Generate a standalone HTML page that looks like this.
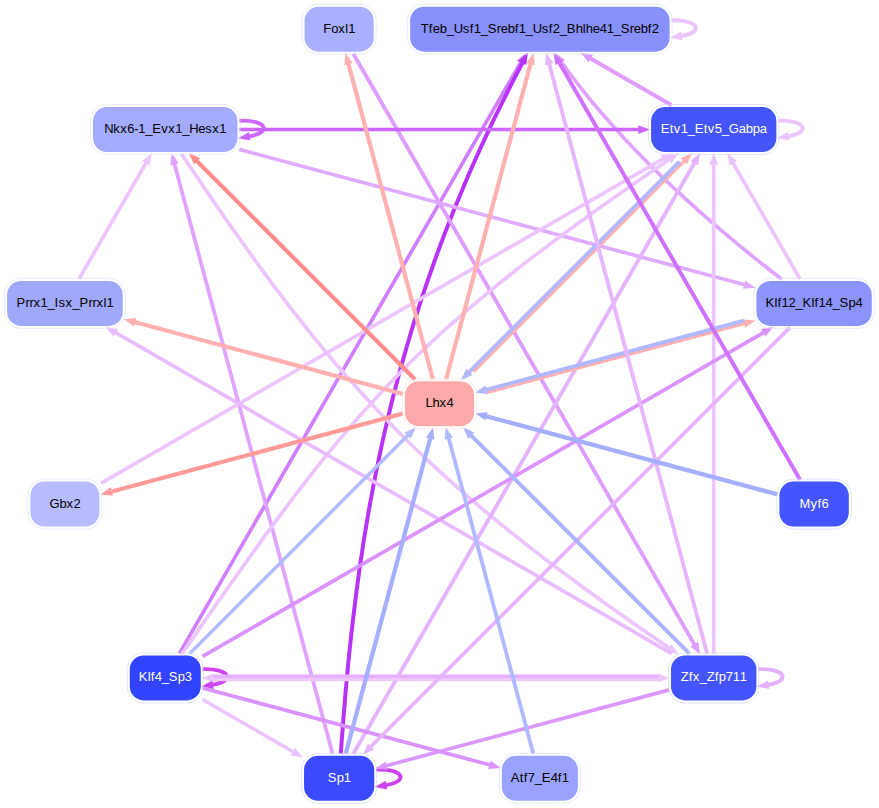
<!DOCTYPE html>
<html><head><meta charset="utf-8"><style>
html,body{margin:0;padding:0;background:#fff;width:879px;height:808px;overflow:hidden}
svg{display:block}
text{font-family:"Liberation Sans",sans-serif;font-size:13px}
</style></head><body>
<svg width="879" height="808" viewBox="0 0 879 808">
<path d="M671.42 20.36C698.42 19.16 705.28 32.18 680.59 36.10" stroke="#ecc4ff" stroke-width="3.9" fill="none"/>
<path d="M670.12 37.76L681.09 31.62L682.46 40.21Z" fill="#ecc4ff"/>
<path d="M239.33 120.73C266.33 119.53 273.19 132.55 248.50 136.47" stroke="#cc66ff" stroke-width="3.9" fill="none"/>
<path d="M238.03 138.13L249.01 131.99L250.37 140.58Z" fill="#cc66ff"/>
<path d="M778.17 120.73C805.17 119.53 812.03 132.55 787.33 136.47" stroke="#ecc4ff" stroke-width="3.9" fill="none"/>
<path d="M776.87 138.13L787.84 131.99L789.20 140.58Z" fill="#ecc4ff"/>
<path d="M202.58 669.17C229.58 667.97 236.44 680.99 211.75 684.90" stroke="#cc44ee" stroke-width="3.9" fill="none"/>
<path d="M201.28 686.57L212.26 680.42L213.62 689.01Z" fill="#cc44ee"/>
<path d="M758.22 669.17C785.22 667.97 792.08 680.99 767.38 684.90" stroke="#e4b0ff" stroke-width="3.9" fill="none"/>
<path d="M756.92 686.57L767.89 680.42L769.25 689.01Z" fill="#e4b0ff"/>
<path d="M376.03 769.54C403.03 768.34 409.89 781.36 385.20 785.27" stroke="#cc44ee" stroke-width="3.9" fill="none"/>
<path d="M374.73 786.94L385.70 780.79L387.07 789.38Z" fill="#cc44ee"/>
<path d="M179.31 653.67L521.29 61.35" stroke="#d080ff" stroke-width="3.7" fill="none"/>
<path d="M526.30 52.66L524.17 65.06L516.64 60.71Z" fill="#d080ff"/>
<path d="M340.8 754.0L341.3 746.2L341.9 738.4L342.5 730.5L343.1 722.7L343.7 714.8L344.4 706.9L345.0 699.0L345.7 691.0L346.4 683.1L347.2 675.1L347.9 667.1L348.7 659.1L349.5 651.1L350.4 643.1L351.2 635.0L352.2 626.9L353.1 618.8L354.1 610.7L355.1 602.6L356.1 594.4L357.2 586.2L358.3 578.0L359.4 569.8L360.6 561.6L361.9 553.3L363.1 545.0L364.4 536.7L365.8 528.4L367.2 520.0L368.6 511.7L370.1 503.3L371.7 494.9L373.3 486.4L374.9 478.0L376.6 469.5L378.4 461.0L380.2 452.5L382.0 443.9L383.9 435.4L385.9 426.8L387.9 418.2L390.0 409.5L392.1 400.8L394.3 392.2L396.6 383.4L398.9 374.7L401.3 365.9L403.8 357.1L406.3 348.3L408.9 339.5L411.5 330.6L414.3 321.7L417.1 312.8L419.9 303.9L422.9 294.9L425.9 285.9L429.0 276.9L432.2 267.8L435.4 258.7L438.7 249.6L442.1 240.5L445.6 231.4L449.2 222.2L452.8 212.9L456.5 203.7L460.4 194.4L464.3 185.1L468.2 175.8L472.3 166.4L476.5 157.0L480.7 147.6L485.1 138.2L489.5 128.7L494.0 119.2L498.7 109.7L503.4 100.1L508.2 90.5L513.1 80.9L518.1 71.2L523.2 61.5" stroke="#b833f8" stroke-width="4.0" fill="none"/>
<path d="M527.95 52.66L526.22 65.12L518.55 61.02Z" fill="#b833f8"/>
<path d="M781.6 279.1L778.4 276.6L775.2 274.1L772.0 271.7L768.8 269.2L765.7 266.7L762.5 264.2L759.3 261.6L756.1 259.1L753.0 256.6L749.8 254.0L746.7 251.5L743.5 248.9L740.4 246.4L737.3 243.8L734.2 241.2L731.1 238.6L728.0 236.0L724.9 233.4L721.8 230.8L718.7 228.2L715.6 225.5L712.6 222.9L709.5 220.2L706.5 217.6L703.5 214.9L700.4 212.3L697.4 209.6L694.4 206.9L691.5 204.2L688.5 201.5L685.5 198.8L682.6 196.1L679.7 193.4L676.7 190.7L673.8 188.0L670.9 185.3L668.0 182.5L665.2 179.8L662.3 177.0L659.5 174.3L656.7 171.5L653.8 168.8L651.0 166.0L648.3 163.2L645.5 160.4L642.7 157.7L640.0 154.9L637.3 152.1L634.6 149.3L631.9 146.5L629.3 143.7L626.6 140.9L624.0 138.1L621.4 135.2L618.8 132.4L616.2 129.6L613.6 126.8L611.1 123.9L608.6 121.1L606.1 118.3L603.6 115.4L601.1 112.6L598.7 109.7L596.3 106.9L593.9 104.0L591.5 101.1L589.2 98.3L586.8 95.4L584.5 92.6L582.2 89.7L580.0 86.8L577.7 83.9L575.5 81.1L573.3 78.2L571.1 75.3L569.0 72.4L566.9 69.6L564.8 66.7L562.7 63.8L560.6 60.9" stroke="#e0a2ff" stroke-width="3.7" fill="none"/>
<path d="M554.94 52.66L565.25 59.87L558.10 64.84Z" fill="#e0a2ff"/>
<path d="M671.63 105.23L589.26 57.68" stroke="#e09cff" stroke-width="4.1" fill="none"/>
<path d="M580.57 52.66L592.97 54.80L588.62 62.33Z" fill="#e09cff"/>
<path d="M353.16 53.46L695.13 645.78" stroke="#dd9cff" stroke-width="3.8" fill="none"/>
<path d="M700.15 654.47L690.48 646.42L698.02 642.07Z" fill="#dd9cff"/>
<path d="M239.33 129.53L640.04 129.53" stroke="#cc66ff" stroke-width="3.6" fill="none"/>
<path d="M650.07 129.53L638.27 133.88L638.27 125.18Z" fill="#cc66ff"/>
<path d="M239.33 149.38L745.75 285.07" stroke="#e0aaff" stroke-width="3.7" fill="none"/>
<path d="M755.44 287.66L742.91 288.81L745.16 280.41Z" fill="#e0aaff"/>
<path d="M78.94 279.08L146.70 161.72" stroke="#ecc4ff" stroke-width="3.7" fill="none"/>
<path d="M151.72 153.03L149.58 165.43L142.05 161.08Z" fill="#ecc4ff"/>
<path d="M332.62 754.04L174.18 162.72" stroke="#e0a4ff" stroke-width="3.8" fill="none"/>
<path d="M171.58 153.03L178.84 163.31L170.43 165.56Z" fill="#e0a4ff"/>
<path d="M181.4 153.8L187.2 162.5L192.9 171.0L198.6 179.4L204.2 187.7L209.8 195.9L215.3 203.9L220.8 211.9L226.2 219.7L231.6 227.4L237.0 235.0L242.3 242.5L247.6 249.9L252.9 257.3L258.1 264.5L263.3 271.6L268.5 278.6L273.6 285.6L278.8 292.4L283.9 299.2L289.0 305.9L294.2 312.5L299.3 319.0L304.4 325.5L309.5 331.9L314.6 338.2L319.7 344.4L324.8 350.6L329.9 356.7L335.0 362.8L340.1 368.8L345.3 374.8L350.5 380.7L355.7 386.5L360.9 392.3L366.1 398.1L371.4 403.8L376.7 409.4L382.1 415.1L387.4 420.7L392.8 426.2L398.3 431.8L403.8 437.3L409.3 442.7L414.9 448.2L420.6 453.6L426.3 459.0L432.0 464.4L437.9 469.8L443.7 475.2L449.7 480.5L455.7 485.9L461.8 491.2L467.9 496.6L474.1 501.9L480.4 507.3L486.8 512.6L493.3 518.0L499.8 523.4L506.5 528.7L513.2 534.1L520.0 539.5L526.9 545.0L533.9 550.4L541.0 555.9L548.3 561.4L555.6 566.9L563.0 572.5L570.5 578.1L578.2 583.8L585.9 589.4L593.8 595.1L601.8 600.9L610.0 606.7L618.2 612.6L626.6 618.5L635.1 624.4L643.7 630.4L652.5 636.5L661.4 642.6L670.5 648.8" stroke="#ecc4ff" stroke-width="3.7" fill="none"/>
<path d="M678.79 654.47L666.59 651.42L671.48 644.23Z" fill="#ecc4ff"/>
<path d="M101.16 483.19L664.33 158.05" stroke="#ecc4ff" stroke-width="3.7" fill="none"/>
<path d="M673.01 153.03L664.97 162.70L660.62 155.17Z" fill="#ecc4ff"/>
<path d="M182.0 653.7L188.3 644.7L194.4 635.8L200.4 627.1L206.4 618.5L212.3 610.1L218.0 601.8L223.7 593.7L229.4 585.7L234.9 577.8L240.4 570.1L245.8 562.5L251.2 555.0L256.5 547.6L261.7 540.3L266.9 533.2L272.1 526.1L277.2 519.2L282.3 512.4L287.3 505.6L292.3 499.0L297.3 492.4L302.3 486.0L307.2 479.6L312.1 473.3L317.0 467.1L321.9 461.0L326.8 455.0L331.7 449.0L336.5 443.1L341.4 437.3L346.3 431.5L351.2 425.7L356.1 420.1L361.1 414.5L366.0 408.9L371.0 403.4L376.0 397.9L381.1 392.5L386.2 387.1L391.3 381.7L396.5 376.4L401.7 371.1L407.0 365.8L412.3 360.5L417.6 355.3L423.1 350.1L428.6 344.8L434.2 339.6L439.8 334.4L445.5 329.2L451.3 324.0L457.2 318.8L463.2 313.6L469.3 308.4L475.4 303.2L481.7 297.9L488.0 292.6L494.5 287.3L501.1 282.0L507.7 276.7L514.5 271.3L521.5 265.9L528.5 260.4L535.7 254.9L543.0 249.4L550.4 243.8L558.0 238.1L565.7 232.4L573.5 226.7L581.5 220.9L589.7 215.0L598.0 209.0L606.4 203.0L615.1 196.9L623.9 190.8L632.8 184.5L642.0 178.2L651.3 171.8L660.8 165.3L670.4 158.7" stroke="#ecc4ff" stroke-width="3.7" fill="none"/>
<path d="M678.75 153.03L671.43 163.26L666.55 156.06Z" fill="#ecc4ff"/>
<path d="M353.16 754.04L695.13 161.72" stroke="#e4b4ff" stroke-width="3.9" fill="none"/>
<path d="M700.15 153.03L698.02 165.43L690.48 161.08Z" fill="#e4b4ff"/>
<path d="M713.72 653.67L713.72 163.06" stroke="#ecc4ff" stroke-width="3.7" fill="none"/>
<path d="M713.72 153.03L718.07 164.83L709.37 164.83Z" fill="#ecc4ff"/>
<path d="M800.06 279.08L732.30 161.72" stroke="#ecc4ff" stroke-width="3.7" fill="none"/>
<path d="M727.28 153.03L736.95 161.08L729.42 165.43Z" fill="#ecc4ff"/>
<path d="M671.63 653.67L114.30 331.89" stroke="#e8bcff" stroke-width="3.7" fill="none"/>
<path d="M105.62 326.88L118.01 329.01L113.66 336.55Z" fill="#e8bcff"/>
<path d="M669.22 689.89L384.92 766.07" stroke="#dc98ff" stroke-width="3.7" fill="none"/>
<path d="M375.23 768.66L385.50 761.41L387.75 769.81Z" fill="#dc98ff"/>
<path d="M213.58 679.67L659.99 679.67" stroke="#eec8ff" stroke-width="3.4" fill="none"/>
<path d="M670.02 677.97L658.22 682.32L658.22 673.62Z" fill="#eec8ff"/>
<path d="M658.22 676.27L211.81 676.27" stroke="#e4b0ff" stroke-width="3.4" fill="none"/>
<path d="M201.78 677.97L213.58 673.62L213.58 682.32Z" fill="#ecc4ff"/>
<path d="M202.58 656.43L764.70 331.89" stroke="#da92ff" stroke-width="3.7" fill="none"/>
<path d="M773.38 326.88L765.34 336.55L760.99 329.01Z" fill="#da92ff"/>
<path d="M202.58 687.96L491.18 765.29" stroke="#da92ff" stroke-width="3.7" fill="none"/>
<path d="M500.87 767.89L488.35 769.03L490.60 760.63Z" fill="#da92ff"/>
<path d="M202.58 699.50L294.34 752.48" stroke="#ecc4ff" stroke-width="3.7" fill="none"/>
<path d="M303.03 757.49L290.64 755.36L294.99 747.83Z" fill="#ecc4ff"/>
<path d="M789.79 327.68L369.72 747.74" stroke="#e6b4ff" stroke-width="3.7" fill="none"/>
<path d="M362.63 754.84L367.90 743.42L374.05 749.57Z" fill="#e6b4ff"/>
<path d="M415.20 379.45L195.88 160.13" stroke="#ff8c8c" stroke-width="4.2" fill="none"/>
<path d="M188.78 153.03L200.20 158.30L194.05 164.45Z" fill="#ff8c8c"/>
<path d="M432.99 379.45L348.02 62.35" stroke="#ffb0b0" stroke-width="4.2" fill="none"/>
<path d="M345.43 52.66L352.68 62.94L344.28 65.19Z" fill="#ffb0b0"/>
<path d="M446.01 379.45L530.98 62.35" stroke="#ffb0b0" stroke-width="4.2" fill="none"/>
<path d="M533.57 52.66L534.72 65.19L526.32 62.94Z" fill="#ffb0b0"/>
<path d="M473.56 371.67L685.10 160.13" stroke="#ffb0b0" stroke-width="3.3" fill="none"/>
<path d="M692.20 153.03L686.93 164.45L680.78 158.30Z" fill="#ffb0b0"/>
<path d="M486.53 392.60L745.75 323.14" stroke="#ffb0b0" stroke-width="3.3" fill="none"/>
<path d="M755.44 320.54L745.16 327.80L742.91 319.40Z" fill="#ffb0b0"/>
<path d="M403.10 394.00L133.40 321.73" stroke="#ffb0b0" stroke-width="4.2" fill="none"/>
<path d="M123.71 319.14L136.24 317.99L133.99 326.39Z" fill="#ffb0b0"/>
<path d="M403.10 413.50L110.05 492.03" stroke="#ff9a9a" stroke-width="4.2" fill="none"/>
<path d="M100.36 494.62L110.64 487.37L112.89 495.77Z" fill="#ff9a9a"/>
<path d="M679.66 161.61L468.11 373.16" stroke="#b0b8ff" stroke-width="3.9" fill="none"/>
<path d="M461.02 380.25L466.29 368.83L472.44 374.98Z" fill="#b0b8ff"/>
<path d="M744.01 320.71L484.79 390.17" stroke="#b0b8ff" stroke-width="3.9" fill="none"/>
<path d="M475.10 392.76L485.37 385.51L487.62 393.91Z" fill="#b0b8ff"/>
<path d="M707.20 653.67L548.76 62.35" stroke="#e6b6ff" stroke-width="3.9" fill="none"/>
<path d="M546.17 52.66L553.42 62.94L545.02 65.19Z" fill="#e6b6ff"/>
<path d="M777.59 494.34L484.79 415.88" stroke="#a6aeff" stroke-width="4.3" fill="none"/>
<path d="M475.10 413.29L487.62 412.14L485.37 420.54Z" fill="#a6aeff"/>
<path d="M689.42 653.67L470.09 434.34" stroke="#acb4ff" stroke-width="4.0" fill="none"/>
<path d="M463.00 427.25L474.42 432.52L468.27 438.67Z" fill="#acb4ff"/>
<path d="M533.36 754.04L448.39 436.94" stroke="#b0b8ff" stroke-width="3.8" fill="none"/>
<path d="M445.80 427.25L453.05 437.52L444.65 439.77Z" fill="#b0b8ff"/>
<path d="M345.64 754.04L430.61 436.94" stroke="#a6aeff" stroke-width="4.3" fill="none"/>
<path d="M433.20 427.25L434.35 439.77L425.95 437.52Z" fill="#a6aeff"/>
<path d="M189.58 653.67L408.91 434.34" stroke="#b4bcff" stroke-width="3.5" fill="none"/>
<path d="M416.00 427.25L410.73 438.67L404.58 432.52Z" fill="#b4bcff"/>
<path d="M800.06 479.82L558.45 61.35" stroke="#d070ff" stroke-width="4.0" fill="none"/>
<path d="M553.44 52.66L563.10 60.71L555.57 65.06Z" fill="#d070ff"/>
<rect x="302.08" y="4.16" width="74.10" height="50.00" rx="16.5" fill="none" stroke="#e0e3ff" stroke-width="0.7"/>
<rect x="304.58" y="6.66" width="69.10" height="45.00" rx="14.0" fill="#aab0ff"/>
<text x="323.13 331.13 338.13 345.13 348.13" y="32.66" fill="#000">Foxl1</text>
<rect x="407.62" y="4.16" width="264.50" height="50.00" rx="16.5" fill="none" stroke="#e0e3ff" stroke-width="0.7"/>
<rect x="410.12" y="6.66" width="259.50" height="45.00" rx="14.0" fill="#8890fc"/>
<text x="420.87 428.87 432.87 439.87 446.87 453.87 462.87 469.87 473.87 480.87 487.87 496.87 500.87 507.87 514.87 518.87 525.87 532.87 541.87 548.87 552.87 559.87 566.87 575.87 582.87 585.87 592.87 599.87 606.87 613.87 620.87 629.87 633.87 640.87 647.87 651.87" y="32.66" fill="#000">Tfeb_Usf1_Srebf1_Usf2_Bhlhe41_Srebf2</text>
<rect x="648.57" y="104.53" width="130.30" height="50.00" rx="16.5" fill="none" stroke="#d2d8ff" stroke-width="0.7"/>
<rect x="651.07" y="107.03" width="125.30" height="45.00" rx="14.0" fill="#4455fa"/>
<text x="660.72 669.72 673.72 680.72 687.72 694.72 703.72 707.72 714.72 721.72 728.72 738.72 745.72 752.72 759.72" y="133.03" fill="#fff">Etv1_Etv5_Gabpa</text>
<rect x="753.94" y="278.38" width="120.30" height="50.00" rx="16.5" fill="none" stroke="#e0e3ff" stroke-width="0.7"/>
<rect x="756.44" y="280.88" width="115.30" height="45.00" rx="14.0" fill="#8c94fc"/>
<text x="765.59 774.59 777.59 781.59 788.59 795.59 802.59 811.59 814.59 818.59 825.59 832.59 839.59 848.59 855.59" y="306.88" fill="#000">Klf12_Klf14_Sp4</text>
<rect x="776.89" y="479.12" width="74.40" height="50.00" rx="16.5" fill="none" stroke="#d2d8ff" stroke-width="0.7"/>
<rect x="779.39" y="481.62" width="69.40" height="45.00" rx="14.0" fill="#4455ff"/>
<text x="799.59 810.59 817.59 821.59" y="507.62" fill="#fff">Myf6</text>
<rect x="668.52" y="652.97" width="90.40" height="50.00" rx="16.5" fill="none" stroke="#d2d8ff" stroke-width="0.7"/>
<rect x="671.02" y="655.47" width="85.40" height="45.00" rx="14.0" fill="#4455ff"/>
<text x="680.72 688.72 692.72 699.72 706.72 714.72 718.72 725.72 732.72 739.72" y="681.47" fill="#fff">Zfx_Zfp711</text>
<rect x="499.37" y="753.34" width="81.00" height="50.00" rx="16.5" fill="none" stroke="#e0e3ff" stroke-width="0.7"/>
<rect x="501.87" y="755.84" width="76.00" height="45.00" rx="14.0" fill="#9aa2ff"/>
<text x="510.87 519.87 523.87 527.87 534.87 541.87 550.87 557.87 561.87" y="781.84" fill="#000">Atf7_E4f1</text>
<rect x="301.53" y="753.34" width="75.20" height="50.00" rx="16.5" fill="none" stroke="#d2d8ff" stroke-width="0.7"/>
<rect x="304.03" y="755.84" width="70.20" height="45.00" rx="14.0" fill="#3a4aff"/>
<text x="327.63 336.63 343.63" y="781.84" fill="#fff">Sp1</text>
<rect x="127.28" y="652.97" width="76.00" height="50.00" rx="16.5" fill="none" stroke="#d2d8ff" stroke-width="0.7"/>
<rect x="129.78" y="655.47" width="71.00" height="45.00" rx="14.0" fill="#3344ff"/>
<text x="138.78 147.78 150.78 154.78 161.78 168.78 177.78 184.78" y="681.47" fill="#fff">Klf4_Sp3</text>
<rect x="27.96" y="479.12" width="73.90" height="50.00" rx="16.5" fill="none" stroke="#e0e3ff" stroke-width="0.7"/>
<rect x="30.46" y="481.62" width="68.90" height="45.00" rx="14.0" fill="#b8bcff"/>
<text x="49.41 59.41 66.41 73.41" y="507.62" fill="#000">Gbx2</text>
<rect x="4.61" y="278.38" width="120.60" height="50.00" rx="16.5" fill="none" stroke="#e0e3ff" stroke-width="0.7"/>
<rect x="7.11" y="280.88" width="115.60" height="45.00" rx="14.0" fill="#a0a8fc"/>
<text x="16.41 25.41 29.41 33.41 40.41 47.41 54.41 58.41 65.41 72.41 79.41 88.41 92.41 96.41 103.41 106.41" y="306.88" fill="#000">Prrx1_Isx_Prrxl1</text>
<rect x="90.53" y="104.53" width="149.50" height="50.00" rx="16.5" fill="none" stroke="#e0e3ff" stroke-width="0.7"/>
<rect x="93.03" y="107.03" width="144.50" height="45.00" rx="14.0" fill="#a4acff"/>
<text x="104.28 113.28 120.28 127.28 134.28 138.28 145.28 152.28 161.28 168.28 175.28 182.28 189.28 198.28 205.28 212.28 219.28" y="133.03" fill="#000">Nkx6-1_Evx1_Hesx1</text>
<rect x="402.40" y="378.75" width="74.20" height="50.00" rx="16.5" fill="none" stroke="#ffe4e4" stroke-width="0.7"/>
<rect x="404.90" y="381.25" width="69.20" height="45.00" rx="14.0" fill="#ffaaaa"/>
<text x="425.50 432.50 439.50 446.50" y="407.25" fill="#000">Lhx4</text>
</svg>
</body></html>
